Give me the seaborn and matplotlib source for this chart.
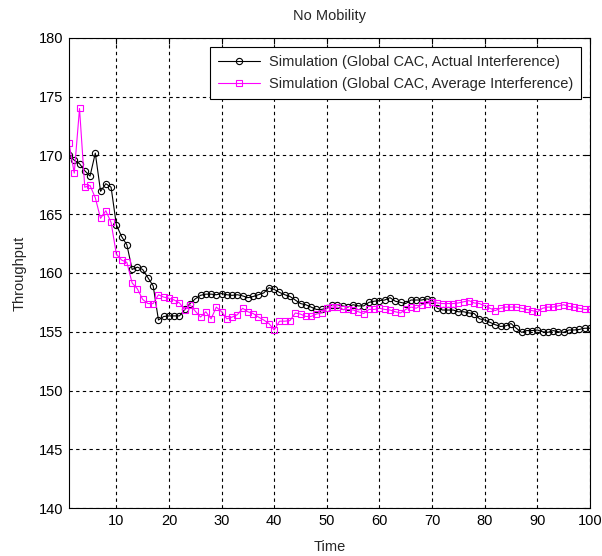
import numpy as np
import pandas as pd
import matplotlib
matplotlib.use("Agg")
import matplotlib.pyplot as plt
import seaborn as sns

time = list(range(1, 101))

actual = [170.0, 169.6, 169.3, 168.7, 168.25, 170.2, 166.95, 167.6, 167.3, 164.1,
          163.1, 162.4, 160.3, 160.5, 160.3, 159.6, 158.9, 156.0, 156.3, 156.35,
          156.35, 156.35, 156.9, 157.4, 157.8, 158.1, 158.2, 158.2, 158.15, 158.25,
          158.15, 158.1, 158.15, 158.05, 157.9, 158.0, 158.15, 158.3, 158.75, 158.6,
          158.35, 158.15, 158.0, 157.7, 157.4, 157.3, 157.1, 156.9, 156.9, 157.0,
          157.3, 157.3, 157.2, 157.1, 157.3, 157.2, 157.2, 157.5, 157.6, 157.65,
          157.7, 157.9, 157.6, 157.5, 157.4, 157.7, 157.7, 157.7, 157.8, 157.7,
          157.0, 156.85, 156.85, 156.85, 156.7, 156.7, 156.6, 156.55, 156.1, 156.0,
          155.8, 155.6, 155.45, 155.5, 155.7, 155.3, 154.95, 155.1, 155.1, 155.15,
          155.0, 154.95, 155.1, 155.0, 154.95, 155.15, 155.15, 155.2, 155.3, 155.3]

average = [171.05, 168.5, 174.0, 167.3, 167.45, 166.4, 164.65, 165.3, 164.3, 161.6,
           161.1, 160.9, 159.15, 158.65, 157.75, 157.4, 157.4, 158.15, 157.95, 157.85,
           157.7, 157.45, 156.85, 157.3, 156.75, 156.25, 156.7, 156.1, 157.1, 156.7,
           156.1, 156.25, 156.45, 157.0, 156.7, 156.55, 156.25, 156.0, 155.7, 155.15,
           155.9, 155.9, 155.95, 156.6, 156.5, 156.3, 156.3, 156.5, 156.6, 157.0,
           157.1, 157.1, 156.9, 156.9, 156.85, 156.7, 156.55, 156.9, 156.9, 157.0,
           156.9, 156.85, 156.7, 156.6, 156.9, 157.1, 157.0, 157.3, 157.4, 157.55,
           157.45, 157.4, 157.4, 157.4, 157.45, 157.55, 157.65, 157.45, 157.4, 157.2,
           157.0, 156.8, 157.0, 157.1, 157.1, 157.1, 157.0, 156.9, 156.8, 156.7,
           157.0, 157.1, 157.1, 157.2, 157.3, 157.15, 157.1, 157.0, 156.9, 156.9]

labels = ["Simulation (Global CAC, Actual Interference)",
          "Simulation (Global CAC, Average Interference)"]
xticks = [10, 20, 30, 40, 50, 60, 70, 80, 90, 100]
yticks = [140, 145, 150, 155, 160, 165, 170, 175, 180]

sns.set_style("white")
plt.rcParams['font.family'] = ['Liberation Sans', 'DejaVu Sans']
plt.rcParams['font.size'] = 10

fig = plt.figure(figsize=(6.02, 5.56), dpi=100)
ax = fig.add_axes([0.1146, 0.0863, 0.8654, 0.8454])

sns.lineplot(x=time, y=actual, ax=ax, color="black", linewidth=0.8,
             marker="o", markersize=4.5, markerfacecolor="none",
             markeredgecolor="black", markeredgewidth=0.8, label=labels[0])
sns.lineplot(x=time, y=average, ax=ax, color="#ff00ff", linewidth=0.8,
             marker="s", markersize=4.5, markerfacecolor="none",
             markeredgecolor="#ff00ff", markeredgewidth=0.8, label=labels[1])

ax.set_xlim(1, 100)
ax.set_ylim(140, 180)
ax.set_xticks(xticks)
ax.set_yticks(yticks)
ax.set_xticklabels([str(t) for t in xticks])
ax.set_yticklabels([str(t) for t in yticks])
ax.grid(True, color="black", linestyle=(0, (3, 3)), linewidth=0.8)
for s in ax.spines.values():
    s.set_visible(True)
    s.set_color("black")
    s.set_linewidth(0.8)
ax.tick_params(direction="in", length=4, width=0.8, top=True, right=True,
               labelsize=10.5, colors="black", pad=4)
ax.set_xlabel("Time", fontsize=10.5, labelpad=9)
ax.set_ylabel("Throughput", fontsize=10.5, labelpad=9)
ax.set_title("No Mobility", fontsize=10.5, pad=13)

leg = ax.legend(loc="upper right", fontsize=10.5, frameon=True, fancybox=False,
                edgecolor="black", framealpha=1, handlelength=2.9,
                borderaxespad=0.6, labelspacing=0.55, borderpad=0.55,
                handletextpad=0.6)
leg.get_frame().set_linewidth(0.8)

fig.savefig("out.png", dpi=100)
